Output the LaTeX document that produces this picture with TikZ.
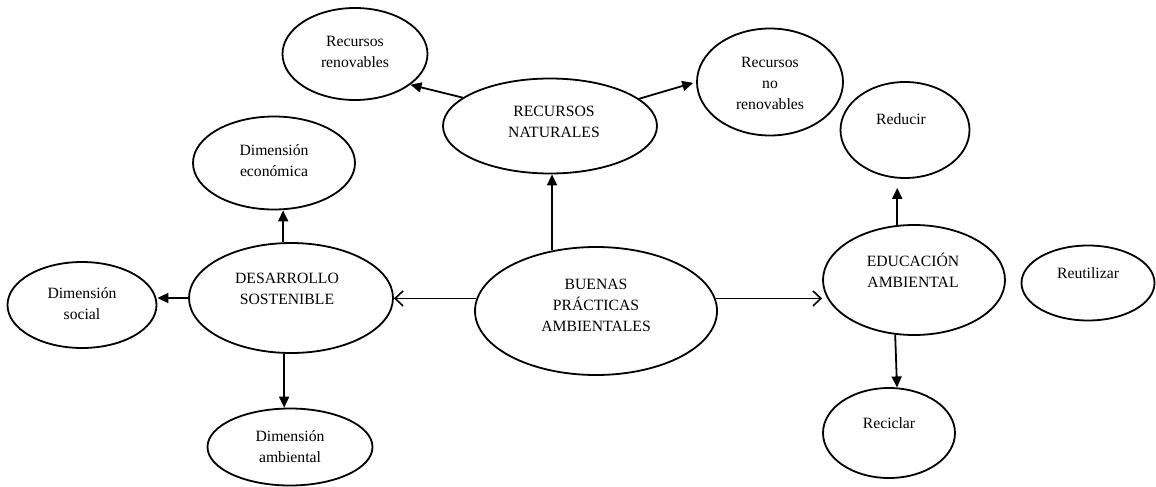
\documentclass[tikz,border=0pt]{standalone}
\usepackage{fontspec}
\setmainfont{Liberation Serif}
\usetikzlibrary{shapes.geometric,arrows.meta}
\begin{document}
\begin{tikzpicture}[x=1pt,y=-1pt,
  ell/.style={draw, line width=1.8pt, ellipse, inner sep=0pt},
  txt/.style={align=center, font=\fontsize{15.7}{21}\selectfont, inner sep=0pt},
  arr/.style={line width=1.8pt, -{Triangle[width=10pt,length=11pt]}},
  oarr/.style={line width=1.8pt, -{Straight Barb[length=8pt,width=15pt,line width=1.6pt]}}]
\useasboundingbox[fill=white] (0,0) rectangle (1156,487);
% ellipses
\node[ell, minimum width=145pt, minimum height=92pt] (rr) at (355,54) {};
\node[ell, minimum width=214pt, minimum height=95pt] (rn) at (550,126) {};
\node[ell, minimum width=146pt, minimum height=107pt] (rnr) at (770,82) {};
\node[ell, minimum width=129pt, minimum height=96pt] (red) at (905,130) {};
\node[ell, minimum width=162pt, minimum height=93pt] (dec) at (274,163) {};
\node[ell, minimum width=204pt, minimum height=110pt] (ds) at (291,298) {};
\node[ell, minimum width=149pt, minimum height=86pt] (dsoc) at (82,305) {};
\node[ell, minimum width=242pt, minimum height=128pt] (bpa) at (596,311) {};
\node[ell, minimum width=182pt, minimum height=110pt] (ea) at (914,280) {};
\node[ell, minimum width=133pt, minimum height=75pt] (reu) at (1088,283) {};
\node[ell, minimum width=132pt, minimum height=90pt] (rec) at (889,433) {};
\node[ell, minimum width=165pt, minimum height=77pt] (damb) at (290,447) {};
% texts
\node[txt] (rrt) at ([yshift=2pt]rr.center) {Recursos\\renovables};
\node[txt] (rnt) at ([xshift=4pt,yshift=4pt]rn.center) {RECURSOS\\NATURALES};
\node[txt] (rnrt) at ([yshift=-1pt]rnr.center) {Recursos\\no\\renovables};
\node[txt] (redt) at ([xshift=-4pt,yshift=11pt]red.center) {Reducir};
\node[txt] (dect) at ([yshift=2pt]dec.center) {Dimensión\\económica};
\node[txt] (dst) at ([xshift=-4pt,yshift=9pt]ds.center) {DESARROLLO\\SOSTENIBLE};
\node[txt] (dsoct) at ([yshift=1.5pt]dsoc.center) {Dimensión\\social};
\node[txt] (bpat) at ([yshift=6pt]bpa.center) {BUENAS\\PRÁCTICAS\\AMBIENTALES};
\node[txt] (eat) at ([xshift=-1pt,yshift=10pt]ea.center) {EDUCACIÓN\\AMBIENTAL};
\node[txt] (reut) at ([yshift=10pt]reu.center) {Reutilizar};
\node[txt] (rect) at ([yshift=10pt]rec.center) {Reciclar};
\node[txt] (dambt) at ([yshift=0pt]damb.center) {Dimensión\\ambiental};
% connectors
\coordinate (redtip) at ([yshift=-9pt]red.south);
\draw[arr] (bpa.126) -- (bpa.126 |- rn.south);
\draw[arr] (rn.162) -- (rr.-29);
\draw[arr, shorten >=3pt] (rn.17) -- (rnr.180);
\draw[arr] (ea.107) -- (ea.107 |- redtip);
\draw[arr] (ea.-109) -- (rec.80);
\draw[arr] (ds.98) -- (ds.98 |- dec.south);
\draw[arr] (ds.west) -- (ds.west -| dsoc.east);
\draw[arr] (ds.-97) -- (ds.-97 |- damb.north);
\draw[oarr] (bpa.174) -- (bpa.174 -| ds.east);
\draw[oarr] (bpa.6) -- (bpa.6 -| ea.west);
\end{tikzpicture}
\end{document}
